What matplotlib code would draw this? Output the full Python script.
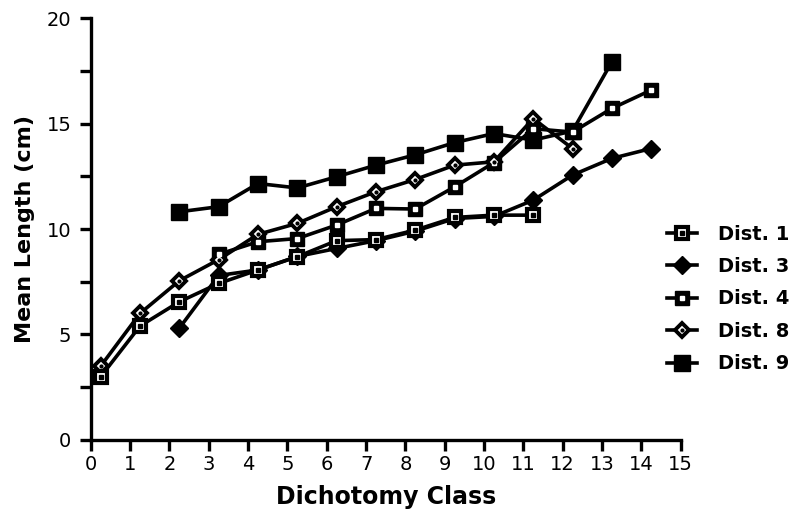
import matplotlib.pyplot as plt
from matplotlib.legend_handler import HandlerTuple
import numpy as np

plt.rcParams['font.family'] = ['DejaVu Sans']

# dichotomy class positions (points sit a quarter class to the right of the tick)
x1 = [0.25, 1.25, 2.25, 3.25, 4.25, 5.25, 6.25, 7.25, 8.25, 9.25, 10.25, 11.25]
dist1 = [3.0, 5.4, 6.55, 7.42, 8.06, 8.69, 9.45, 9.5, 9.95, 10.55, 10.66, 10.66]

x3 = [2.25, 3.25, 4.25, 5.25, 6.25, 7.25, 8.25, 9.25, 10.25, 11.25, 12.25, 13.25, 14.25]
dist3 = [5.3, 7.8, 8.06, 8.7, 9.08, 9.45, 9.9, 10.5, 10.6, 11.37, 12.56, 13.35, 13.82]

x4 = [3.25, 4.25, 5.25, 6.25, 7.25, 8.25, 9.25, 10.25, 11.25, 12.25, 13.25, 14.25]
dist4 = [8.8, 9.4, 9.55, 10.19, 10.98, 10.95, 12.0, 13.15, 14.76, 14.6, 15.72, 16.59]

x8 = [0.25, 1.25, 2.25, 3.25, 4.25, 5.25, 6.25, 7.25, 8.25, 9.25, 10.25, 11.25, 12.25]
dist8 = [3.5, 6.0, 7.55, 8.55, 9.75, 10.27, 11.06, 11.77, 12.35, 13.03, 13.19, 15.24, 13.82]

x9 = [2.25, 3.25, 4.25, 5.25, 6.25, 7.25, 8.25, 9.25, 10.25, 11.25, 12.25, 13.25]
dist9 = [10.82, 11.06, 12.16, 11.95, 12.48, 13.03, 13.52, 14.1, 14.53, 14.22, 14.65, 17.93]

fig = plt.figure(figsize=(7.97, 5.20), dpi=100)
ax = fig.add_axes([0.114, 0.154, 0.74, 0.811])

lw = 2.6
l9, = ax.plot(x9, dist9, color='black', lw=lw, marker='s', ms=11, mfc='black',
              mec='black', zorder=3)
l8, = ax.plot(x8, dist8, color='black', lw=lw, marker='D', ms=7.5, mfc='white',
              mec='black', mew=2.8, zorder=4)
l4, = ax.plot(x4, dist4, color='black', lw=lw, marker='s', ms=10.5, mfc='black',
              mec='black', zorder=3)
l3, = ax.plot(x3, dist3, color='black', lw=lw, marker='D', ms=9, mfc='black',
              mec='black', zorder=3)
l1, = ax.plot(x1, dist1, color='black', lw=lw, marker='s', ms=8, mfc='white',
              mec='black', mew=3, zorder=5)
# small centre dots
d4, = ax.plot(x4, dist4, ls='none', marker='s', ms=2.5, color='white', zorder=4)
d1, = ax.plot(x1, dist1, ls='none', marker='s', ms=2.5, color='black', zorder=6)
d8, = ax.plot(x8, dist8, ls='none', marker='o', ms=2, color='black', zorder=6)

ax.set_xlim(0, 15)
ax.set_ylim(0, 20)
ax.set_xticks(np.arange(0, 16, 1))
ax.set_yticks([0, 5, 10, 15, 20])
ax.set_yticks([2.5, 7.5, 12.5, 17.5], minor=True)

for side in ['top', 'right']:
    ax.spines[side].set_visible(False)
for side in ['left', 'bottom']:
    ax.spines[side].set_linewidth(2.4)

ax.tick_params(axis='both', which='both', direction='out', width=2.4, labelsize=14)
ax.tick_params(axis='x', length=8, pad=3)
ax.tick_params(axis='y', which='both', length=8, pad=6)

ax.set_xlabel('Dichotomy Class', fontsize=17, fontweight='bold', labelpad=8)
ax.set_ylabel('Mean Length (cm)', fontsize=16, fontweight='bold', labelpad=8)

ax.legend([(l1, d1), l3, (l4, d4), (l8, d8), l9],
          ['Dist. 1', 'Dist. 3', 'Dist. 4', 'Dist. 8', 'Dist. 9'],
          handler_map={tuple: HandlerTuple(ndivide=1)},
          loc='upper left', bbox_to_anchor=(0.837, 0.568), bbox_transform=fig.transFigure,
          frameon=False, borderpad=0, borderaxespad=0,
          prop={'weight': 'bold', 'size': 14}, handlelength=1.55,
          labelspacing=0.69, handletextpad=1.05)

fig.savefig('out.png', dpi=100)
